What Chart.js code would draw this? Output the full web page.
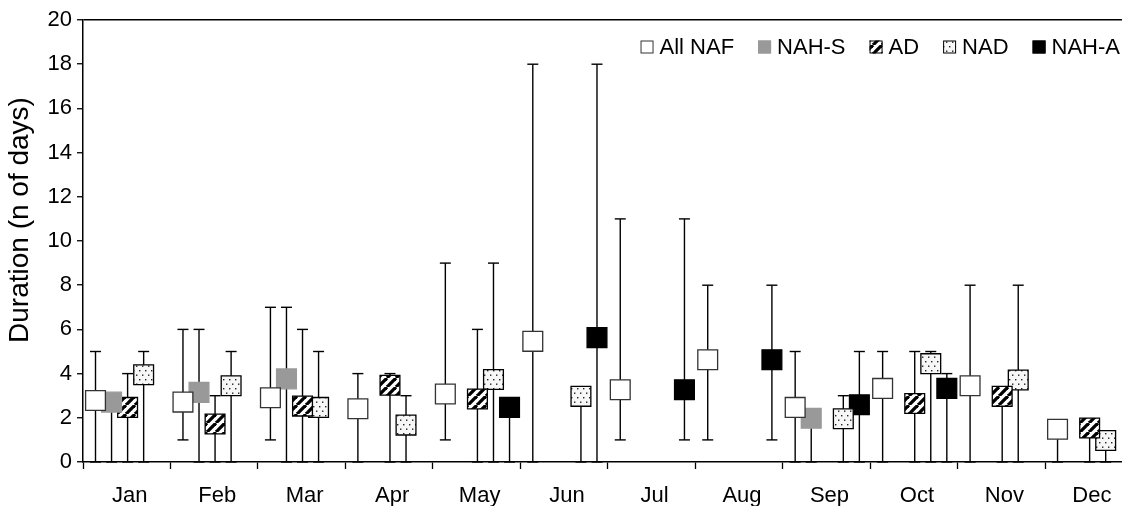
<!DOCTYPE html>
<html><head><meta charset="utf-8">
<script src="https://cdn.jsdelivr.net/npm/chart.js@4.4.1/dist/chart.umd.min.js"></script>
<style>html,body{margin:0;padding:0;background:#fff;overflow:hidden}canvas{display:block}</style>
</head><body><canvas id="c" width="1122" height="506"></canvas>
<script>
// ---- data ----
const months = ['Jan','Feb','Mar','Apr','May','Jun','Jul','Aug','Sep','Oct','Nov','Dec'];
const seriesNames = ['All NAF','NAH-S','AD','NAD','NAH-A'];
const yTicks = [0,2,4,6,8,10,12,14,16,18,20];
const yTitle = 'Duration (n of days)';

const allNafMean = [2.78,2.71,2.91,2.41,3.08,5.46,3.27,4.63,2.47,3.33,3.45,1.48];
const allNafMin  = [0,1,1,0,1,0,1,1,0,0,0,0];
const allNafMax  = [5,6,7,4,9,18,11,8,5,5,8,null];

const nahSMean = [2.71,3.15,3.76,null,null,null,null,null,1.98,null,null,null];
const nahSMin  = [0,0,0,null,null,null,null,null,0,null,null,null];
const nahSMax  = [null,6,7,null,null,null,null,null,null,null,null,null];

const adMean = [2.47,1.72,2.53,3.47,2.85,null,null,null,null,2.65,2.97,1.54];
const adMin  = [0,0,0,0,0,null,null,null,null,0,0,0];
const adMax  = [4,3,6,4,6,null,null,null,null,5,null,null];

const nadMean = [3.95,3.45,2.47,1.67,3.73,2.97,null,null,1.96,4.45,3.71,0.97];
const nadMin  = [0,0,0,0,0,0,null,null,0,0,0,0];
const nadMax  = [5,5,5,3,9,null,null,null,3,5,8,null];

const nahAMean = [null,null,null,null,2.47,5.63,3.27,4.63,2.59,3.33,null,null];
const nahAMin  = [null,null,null,null,0,0,1,1,0,0,null,null];
const nahAMax  = [null,null,null,null,null,18,11,8,5,4,null,null];

// ---- styles ----
const FONT = '"Liberation Sans", Arial, Helvetica, sans-serif';
function hatchPattern(){
  const n = 9;
  const c = document.createElement('canvas'); c.width = n; c.height = n;
  const g = c.getContext('2d');
  g.fillStyle = '#fff'; g.fillRect(0,0,n,n);
  g.strokeStyle = '#000'; g.lineWidth = 3.3;
  for (const k of [-n,0,n]) { g.beginPath(); g.moveTo(k,n); g.lineTo(k+n,0); g.stroke(); }
  return g.createPattern(c,'repeat');
}
function dotPattern(){
  const c = document.createElement('canvas'); c.width = 6; c.height = 9;
  const g = c.getContext('2d');
  g.fillStyle = '#f7f7f7'; g.fillRect(0,0,6,9);
  g.fillStyle = '#222';
  g.fillRect(1,1,1.4,1.4); g.fillRect(4,5.5,1.4,1.4);
  return g.createPattern(c,'repeat');
}
const styles = [
  {bg:'#ffffff', border:'#333333'},
  {bg:'#999999', border:'#999999'},
  {bg:hatchPattern(), border:'#000000'},
  {bg:dotPattern(), border:'#000000'},
  {bg:'#000000', border:'#000000'}
];
const SLOT = 0.1835;

const seriesData = [
  [allNafMean, allNafMin, allNafMax],
  [nahSMean, nahSMin, nahSMax],
  [adMean, adMin, adMax],
  [nadMean, nadMin, nadMax],
  [nahAMean, nahAMin, nahAMax]
];

const datasets = seriesData.map(([mean, mn, mx], k) => ({
  label: seriesNames[k],
  data: months.map((m, i) => mean[i] == null ? null :
    ({x: i + 0.5 + (k - 2) * SLOT + 0.01, y: mean[i], yMin: mn[i], yMax: mx[i]})).filter(p => p),
  pointStyle: 'rect',
  pointRadius: 14,
  pointHoverRadius: 14,
  pointBorderWidth: 1.3,
  backgroundColor: styles[k].bg,
  borderColor: styles[k].border,
  showLine: false
}));

const errorBars = {
  id: 'errorBars',
  beforeDatasetsDraw(chart) {
    const {ctx, scales: {x, y}} = chart;
    ctx.save();
    ctx.strokeStyle = '#000'; ctx.lineWidth = 1.4;
    chart.data.datasets.forEach(ds => ds.data.forEach(p => {
      const px = x.getPixelForValue(p.x);
      const lo = y.getPixelForValue(p.yMin != null ? p.yMin : p.y);
      const hi = y.getPixelForValue(p.yMax != null ? p.yMax : p.y);
      ctx.beginPath(); ctx.moveTo(px, lo); ctx.lineTo(px, hi); ctx.stroke();
      const cw = 5.5;
      if (p.yMax != null) { ctx.beginPath(); ctx.moveTo(px - cw, hi); ctx.lineTo(px + cw, hi); ctx.stroke(); }
      if (p.yMin != null) { ctx.beginPath(); ctx.moveTo(px - cw, lo); ctx.lineTo(px + cw, lo); ctx.stroke(); }
    }));
    ctx.restore();
  }
};

const boxLegend = {
  id: 'boxLegend',
  afterDatasetsDraw(chart) {
    const ctx = chart.ctx, area = chart.chartArea;
    ctx.save();
    ctx.font = '22px ' + FONT;
    ctx.textBaseline = 'middle';
    const box = 13, gapBox = 6, gapItem = 24;
    const items = chart.data.datasets.map(ds => ({ds, w: ctx.measureText(ds.label).width}));
    const total = items.reduce((s, it) => s + box + gapBox + it.w, 0) + gapItem * (items.length - 1);
    let x = area.right - 2 - total;
    const yMid = area.top + 27;
    items.forEach(it => {
      ctx.fillStyle = it.ds.backgroundColor;
      ctx.fillRect(x, yMid - box / 2, box, box);
      ctx.lineWidth = 1; ctx.strokeStyle = it.ds.borderColor;
      ctx.strokeRect(x + 0.5, yMid - box / 2 + 0.5, box - 1, box - 1);
      ctx.fillStyle = '#000';
      ctx.fillText(it.ds.label, x + box + gapBox, yMid + 1);
      x += box + gapBox + it.w + gapItem;
    });
    ctx.restore();
  }
};

const axisTitle = {
  id: 'axisTitle',
  afterDraw(chart) {
    const ctx = chart.ctx, area = chart.chartArea;
    ctx.save();
    ctx.font = '28px ' + FONT;
    ctx.fillStyle = '#000';
    ctx.textAlign = 'center';
    ctx.textBaseline = 'middle';
    ctx.translate(20, area.top + 200);
    ctx.rotate(-Math.PI / 2);
    ctx.fillText(yTitle, 0, 0);
    ctx.restore();
  }
};

Chart.defaults.font.family = FONT;
Chart.defaults.color = '#000';

new Chart(document.getElementById('c'), {
  type: 'scatter',
  data: { datasets },
  plugins: [errorBars, boxLegend, axisTitle],
  options: {
    responsive: false,
    animation: false,
    devicePixelRatio: 1,
    events: [],
    layout: { autoPadding: false, padding: { top: 20, right: 0, left: 0, bottom: 0 } },
    plugins: { legend: { display: false }, tooltip: { enabled: false } },
    scales: {
      x: {
        type: 'linear', min: 0, max: 11.88,
        afterBuildTicks: s => {
          const t = [];
          months.forEach((m, i) => { t.push({value: i}); t.push({value: i + 0.535}); });
          s.ticks = t;
        },
        afterFit: s => { s.height = 44; s.paddingLeft = 0; s.paddingRight = 0; },
        ticks: {
          autoSkip: false, maxRotation: 0, minRotation: 0, padding: 14,
          font: { size: 22 }, color: '#000',
          callback: v => Number.isInteger(v) ? '' : months[Math.floor(v)]
        },
        grid: {
          drawOnChartArea: false, drawTicks: true, tickLength: 7, tickWidth: 1.3,
          tickColor: c => Number.isInteger(c.tick.value) ? '#000' : 'rgba(0,0,0,0)'
        },
        border: { color: '#000', width: 1.5 }
      },
      y: {
        min: 0, max: 20,
        afterBuildTicks: s => { s.ticks = yTicks.map(v => ({value: v})); },
        afterFit: s => { s.width = 83; s.paddingTop = 0; s.paddingBottom = 0; },
        ticks: { font: { size: 22 }, color: '#000', padding: 5 },
        grid: {
          drawTicks: true, tickLength: 6, tickWidth: 1.3, tickColor: '#000',
          color: c => c.tick && c.tick.value === 20 ? '#000' : 'rgba(0,0,0,0)', lineWidth: 1.5
        },
        border: { color: '#000', width: 1.5 }
      }
    }
  }
});
</script>
</body></html>
